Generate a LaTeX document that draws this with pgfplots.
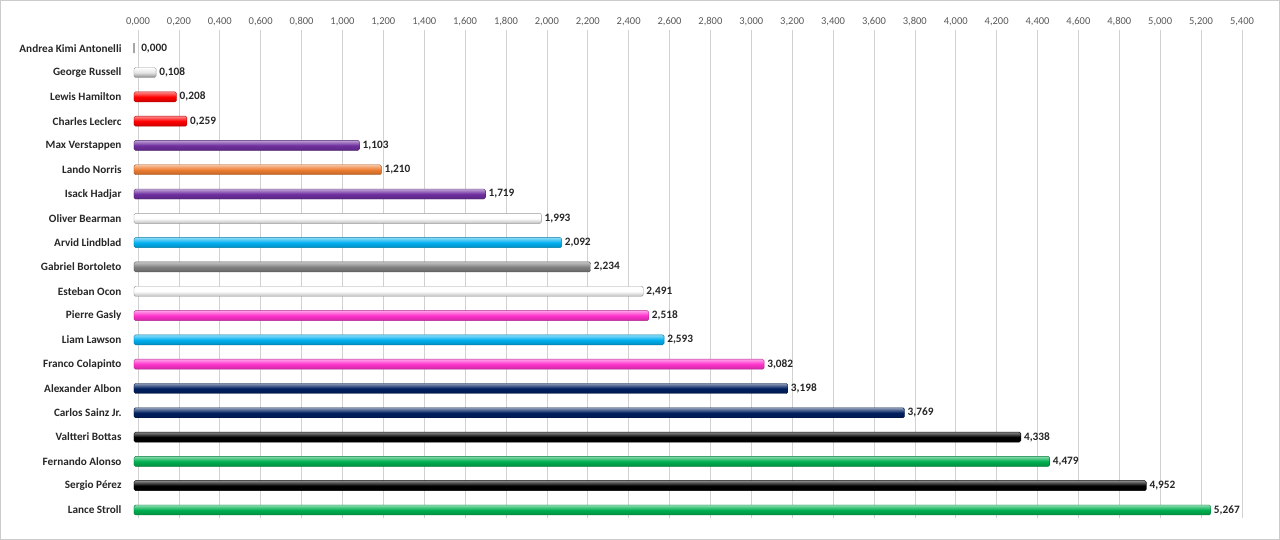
\documentclass[border=0pt]{standalone}
\usepackage{pgfplots}
\pgfplotsset{compat=1.18}
\usepackage{fontspec}
\setmainfont{Carlito}
\definecolor{fpurple}{HTML}{7030A0}
\definecolor{forange}{HTML}{ED7D31}
\definecolor{fsky}{HTML}{00B0F0}
\definecolor{fpink}{HTML}{FF33CC}
\definecolor{fnavy}{HTML}{002060}
\definecolor{fgreen}{HTML}{00B050}
\definecolor{fgrey}{HTML}{808080}
\definecolor{fred}{HTML}{FF0000}
\definecolor{lbl}{HTML}{262626}
\definecolor{tck}{HTML}{595959}
\tikzset{
  cyl/.style={draw=#1!70!black, top color=#1!45!white, bottom color=#1!80!black, middle color=#1},
  cylw/.style={draw=black!40, top color=white, bottom color=black!25, middle color=white},
}
\begin{document}
\begin{tikzpicture}
\useasboundingbox (0,0) rectangle (1280bp,540bp);
\draw[black!20, line width=1bp] (0.5bp,0.5bp) rectangle (1279.5bp,539.5bp);
\begin{axis}[
  at={(138bp,22bp)}, anchor=south west,
  width=1104bp, height=488bp, scale only axis,
  clip=false,
  xmin=0, xmax=5.4, ymin=-0.33, ymax=19.75,
  xtick distance=0.2,
  xmajorgrids, grid style={black!18, line width=0.6bp},
  axis line style={draw=none},
  major tick length=0pt,
  xticklabel pos=top,
  xticklabel style={font=\fontsize{10.5bp}{12bp}\selectfont, text=tck, yshift=1bp},
  /pgf/number format/.cd, fixed, fixed zerofill, precision=3, use comma, assume math mode=true,
  /pgfplots/.cd,
  ytick={0,...,19},
  yticklabels={Lance Stroll,Sergio Pérez,Fernando Alonso,Valtteri Bottas,Carlos Sainz Jr.,Alexander Albon,Franco Colapinto,Liam Lawson,Pierre Gasly,Esteban Ocon,Gabriel Bortoleto,Arvid Lindblad,Oliver Bearman,Isack Hadjar,Lando Norris,Max Verstappen,Charles Leclerc,Lewis Hamilton,George Russell,Andrea Kimi Antonelli},
  yticklabel style={font=\fontsize{11.2bp}{13bp}\selectfont\bfseries, text=lbl, xshift=-13bp},
  xbar, bar width=10bp, bar shift=0pt,
  every axis plot/.append style={rounded corners=1.5bp, bar shift=0pt, xshift=-4bp},
  nodes near coords={\pgfmathprintnumber[fixed, fixed zerofill, precision=3, use comma, assume math mode=true]{\pgfplotspointmeta}},
  nodes near coords style={font=\fontsize{11.3bp}{13bp}\selectfont\bfseries, text=lbl, inner sep=2bp, xshift=1bp},
  point meta=x,
]
\addplot[cyl=fgreen] coordinates {(5.267,0)};
\addplot[cyl=black] coordinates {(4.952,1)};
\addplot[cyl=fgreen] coordinates {(4.479,2)};
\addplot[cyl=black] coordinates {(4.338,3)};
\addplot[cyl=fnavy] coordinates {(3.769,4)};
\addplot[cyl=fnavy] coordinates {(3.198,5)};
\addplot[cyl=fpink] coordinates {(3.082,6)};
\addplot[cyl=fsky] coordinates {(2.593,7)};
\addplot[cyl=fpink] coordinates {(2.518,8)};
\addplot[cylw] coordinates {(2.491,9)};
\addplot[cyl=fgrey] coordinates {(2.234,10)};
\addplot[cyl=fsky] coordinates {(2.092,11)};
\addplot[cylw] coordinates {(1.993,12)};
\addplot[cyl=fpurple] coordinates {(1.719,13)};
\addplot[cyl=forange] coordinates {(1.210,14)};
\addplot[cyl=fpurple] coordinates {(1.103,15)};
\addplot[cyl=fred] coordinates {(0.259,16)};
\addplot[cyl=fred] coordinates {(0.208,17)};
\addplot[draw=black!40, top color=white, bottom color=black!45, middle color=black!10] coordinates {(0.108,18)};
\addplot[draw=black!35, fill=black!30, sharp corners, line width=2.5bp, nodes near coords style={xshift=3bp}] coordinates {(0.000,19)};
\end{axis}
\end{tikzpicture}
\end{document}
